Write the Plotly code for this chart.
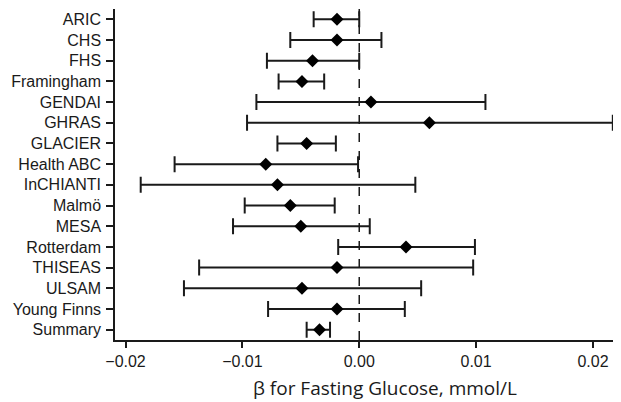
import plotly.graph_objects as go

studies = ["ARIC", "CHS", "FHS", "Framingham", "GENDAI", "GHRAS", "GLACIER",
           "Health ABC", "InCHIANTI", "Malmö", "MESA", "Rotterdam", "THISEAS",
           "ULSAM", "Young Finns", "Summary"]
beta = [-0.0019, -0.0019, -0.0040, -0.0049, 0.0010, 0.0060, -0.0045,
        -0.0080, -0.0070, -0.0059, -0.0050, 0.0040, -0.0019,
        -0.0049, -0.0019, -0.0034]
ci_low = [-0.0039, -0.0059, -0.0079, -0.0069, -0.0088, -0.0096, -0.0070,
          -0.0158, -0.0187, -0.0098, -0.0108, -0.0018, -0.0137,
          -0.0150, -0.0078, -0.0045]
ci_high = [0.0000, 0.0019, 0.0000, -0.0030, 0.0108, 0.0217, -0.0020,
           -0.0001, 0.0048, -0.0021, 0.0009, 0.0099, 0.00975,
           0.0053, 0.0039, -0.0025]
x_ticks = [-0.02, -0.01, 0.0, 0.01, 0.02]
x_tick_text = ["\u22120.02", "\u22120.01", "0.00", "0.01", "0.02"]
x_title = "\u03b2 for Fasting Glucose, mmol/L"

ink = "#1a1a1a"
fig = go.Figure()
fig.add_trace(go.Scatter(
    x=beta, y=studies, mode="markers",
    marker=dict(symbol="diamond", size=10, color="black"),
    error_x=dict(type="data", symmetric=False,
                 array=[h - b for h, b in zip(ci_high, beta)],
                 arrayminus=[b - l for l, b in zip(ci_low, beta)],
                 color=ink, thickness=2, width=8),
    showlegend=False, hoverinfo="skip", cliponaxis=False))

fig.add_shape(type="line", xref="x", yref="paper", x0=0, x1=0, y0=0, y1=1,
              line=dict(color=ink, width=1.5, dash="dash"), layer="below")

# The page body has an 8px default margin; compensate in figure size/margins.
fig_w, fig_h = 613, 394
m_l, m_r, m_t, m_b = 107, 0, 1, 62
plot_h = fig_h - m_t - m_b
fig.update_layout(
    width=fig_w, height=fig_h,
    margin=dict(l=m_l, r=m_r, t=m_t, b=m_b),
    paper_bgcolor="white", plot_bgcolor="white",
    font=dict(family="Liberation Sans, Arial, sans-serif", size=16, color=ink),
    xaxis=dict(range=[-0.0209, 0.0224], tickvals=x_ticks, ticktext=x_tick_text,
               ticks="outside", ticklen=6, tickwidth=1.5, tickcolor=ink,
               showline=True, linecolor=ink, linewidth=1.5,
               showgrid=False, zeroline=False, automargin=False,
               tickfont=dict(size=16)),
    yaxis=dict(categoryorder="array", categoryarray=studies,
               range=[15.5, -0.5], ticks="outside", ticklen=7, tickwidth=1.5,
               tickcolor=ink, showline=True, linecolor=ink, linewidth=1.5,
               showgrid=False, zeroline=False, automargin=False,
               tickfont=dict(size=16), ticklabelstandoff=2),
    annotations=[dict(text=x_title, xref="paper", yref="paper",
                      x=(385 - 115) / (621 - 115), y=-48 / plot_h,
                      xanchor="center", yanchor="middle", showarrow=False,
                      font=dict(family="Open Sans, sans-serif", size=19, color=ink))],
)

fig.write_html("out.html")
